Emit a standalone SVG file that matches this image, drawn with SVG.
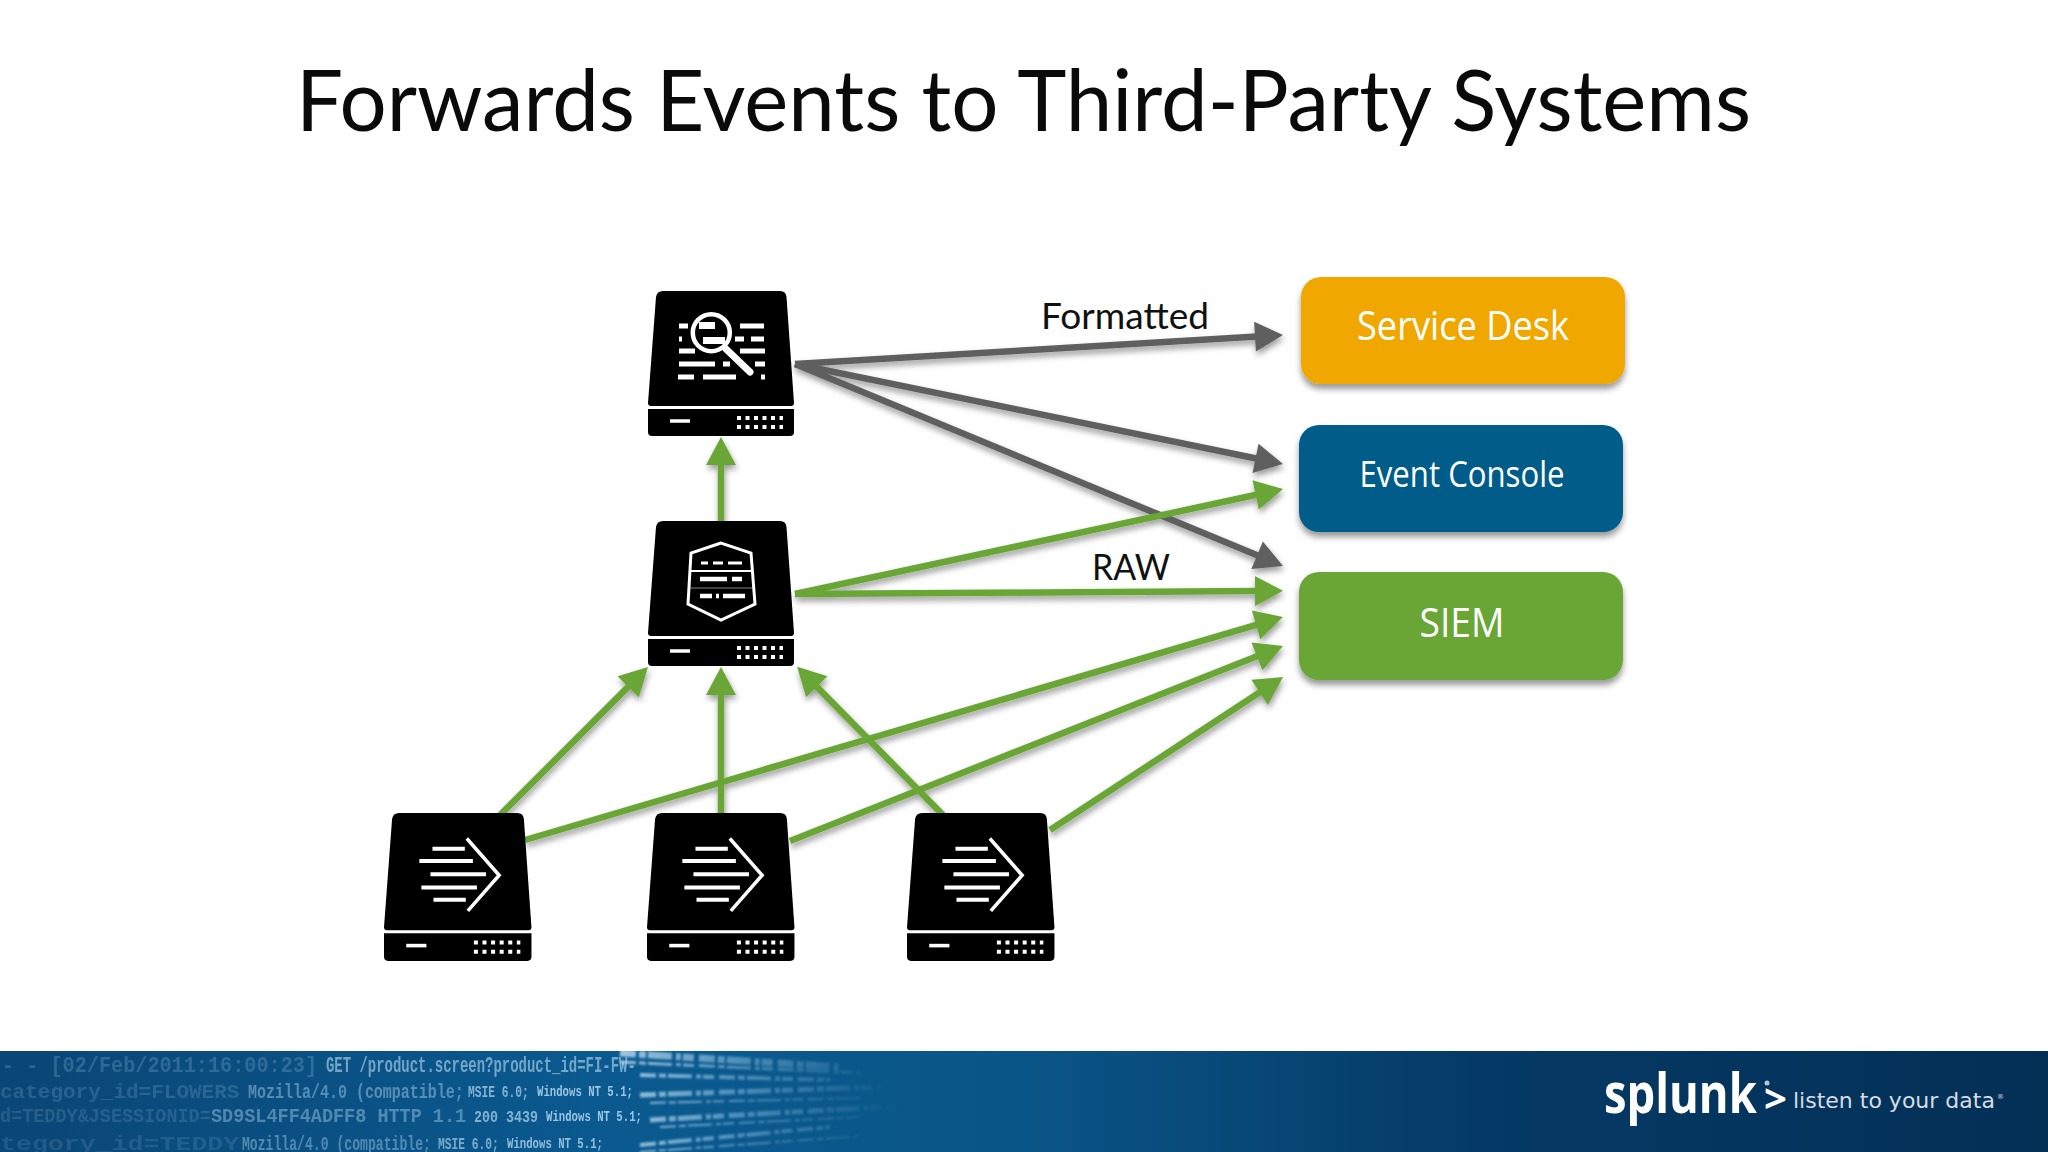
<svg xmlns="http://www.w3.org/2000/svg" width="2048" height="1152" viewBox="0 0 2048 1152">
<style>
.title{font-family:Lato,"Liberation Sans",sans-serif;font-size:86px;fill:#0a0a0a}
.lbl{font-family:Lato,"Liberation Sans",sans-serif;font-size:36px;fill:#111}
.box{font-family:"Open Sans","Liberation Sans",sans-serif;fill:#fff;text-anchor:middle}
.g{stroke:#69a636;stroke-width:6.500;fill:none;marker-end:url(#ag)}
.k{stroke:#5f5f5f;stroke-width:6.500;fill:none;marker-end:url(#ak)}
.ic{stroke:#fff;fill:none}
.code{font-family:"Liberation Mono",monospace;fill:#b4d8f0;font-weight:bold}
.logo{font-family:"Open Sans","Liberation Sans",sans-serif;font-weight:700;fill:#fff}
.tag{font-family:"DejaVu Sans",sans-serif;fill:#d5dde5}
</style>
<defs>
<marker id="ag" markerUnits="userSpaceOnUse" markerWidth="30" markerHeight="30" refX="2" refY="15" orient="auto" overflow="visible"><path d="M0,0L28,15L0,30z" fill="#69a636"/></marker>
<marker id="ak" markerUnits="userSpaceOnUse" markerWidth="30" markerHeight="30" refX="2" refY="15" orient="auto" overflow="visible"><path d="M0,0L28,15L0,30z" fill="#5f5f5f"/></marker>
<filter id="sh" x="-5%" y="-5%" width="110%" height="110%"><feDropShadow dx="1" dy="4" stdDeviation="3" flood-color="#000" flood-opacity="0.4"/></filter>
<filter id="bs" x="-5%" y="-10%" width="110%" height="125%"><feDropShadow dx="0" dy="5" stdDeviation="3" flood-color="#000" flood-opacity="0.4"/></filter>
<filter id="soft" filterUnits="userSpaceOnUse" x="0" y="1040" width="1100" height="112"><feGaussianBlur stdDeviation="0.7"/></filter>
<filter id="soft2" filterUnits="userSpaceOnUse" x="0" y="1040" width="1100" height="112"><feGaussianBlur stdDeviation="1.300"/></filter>
<linearGradient id="band" x1="0" y1="0" x2="1" y2="0">
<stop offset="0" stop-color="#0a4676"/><stop offset="0.3" stop-color="#0a5a90"/><stop offset="0.5" stop-color="#0a5587"/><stop offset="0.72" stop-color="#053a66"/><stop offset="1" stop-color="#032f55"/>
</linearGradient>
<linearGradient id="fade" gradientUnits="userSpaceOnUse" x1="600" y1="0" x2="900" y2="0">
<stop offset="0" stop-color="#d8eefa" stop-opacity="0.8"/><stop offset="0.45" stop-color="#a8d4f0" stop-opacity="0.45"/><stop offset="1" stop-color="#8fc4e6" stop-opacity="0"/>
</linearGradient>
<clipPath id="bc"><rect x="0" y="1051" width="2048" height="101"/></clipPath>
<g id="chassis">
<path d="M15,0H132Q138,0 138.500,6L146,112Q146,115 143,115H3Q0,115 0,112L8,6Q9,0 15,0Z" fill="#000"/>
<path d="M0,118H146V141Q146,145 142,145H4Q0,145 0,141Z" fill="#000"/>
<path d="M22,130H42" stroke="#fff" stroke-width="3.500"/>
<path d="M89,127H135M89,136H135" stroke="#fff" stroke-width="4" stroke-dasharray="4 4.500"/>
</g>
<g id="fwd">
<use href="#chassis"/>
<path class="ic" stroke-width="4" d="M48,35H80M35,47H88M46,60H101M37,73H92M49,85H81"/>
<path class="ic" stroke-width="3.500" d="M82,25L114,61L83,96"/>
</g>
</defs>
<rect width="2048" height="1152" fill="#fff"/>
<text class="title" x="296" y="131" textLength="1455" lengthAdjust="spacingAndGlyphs">Forwards Events to Third-Party Systems</text>

<g id="connectors" filter="url(#sh)">
<line id="c1" class="k" x1="795" y1="364" x2="1257" y2="336.500"/>
<line id="c2" class="k" x1="795" y1="364" x2="1257.500" y2="458.800"/>
<line id="c3" class="k" x1="795" y1="364" x2="1259" y2="556"/>
<line id="c4" class="g" x1="721" y1="522" x2="721" y2="463"/>
<line id="c5" class="g" x1="795" y1="594" x2="1257.600" y2="494.500"/>
<line id="c6" class="g" x1="795" y1="594" x2="1257" y2="591"/>
<line id="c7" class="g" x1="500" y1="815" x2="629.600" y2="685.400"/>
<line id="c8" class="g" x1="721" y1="815" x2="721" y2="693"/>
<line id="c9" class="g" x1="943" y1="815" x2="815.400" y2="685.400"/>
<line id="c10" class="g" x1="525" y1="840" x2="1258" y2="624.300"/>
<line id="c11" class="g" x1="790" y1="841" x2="1258.800" y2="655.600"/>
<line id="c12" class="g" x1="1050" y1="830" x2="1261.300" y2="691.300"/>
</g>

<text class="lbl" x="1041" y="329" textLength="168" lengthAdjust="spacingAndGlyphs">Formatted</text>
<text class="lbl" x="1092" y="580" textLength="78" lengthAdjust="spacingAndGlyphs">RAW</text>

<g id="search-head" transform="translate(648,291)">
<use href="#chassis"/>
<path class="ic" stroke-width="5" d="M31,35H40M92,35H116M31,48H34M87,48H96M103,48H116M31,60H47M92,60H117M31,73H67M75,73H82M107,73H117M30,86H46M55,86H88M113,86H117"/>
<rect x="51" y="31" width="16" height="7" fill="#fff"/>
<rect x="55" y="46" width="22" height="7" fill="#fff"/>
<circle class="ic" stroke-width="4.500" cx="63.300" cy="41.700" r="18.500"/>
<path class="ic" stroke-width="7" stroke-linecap="round" d="M78,58L102,81"/>
</g>

<g id="indexer" transform="translate(648,521)">
<use href="#chassis"/>
<path class="ic" stroke-width="3" d="M73,22L43,32L40,83L73,99L107,83L103,32Z"/>
<path class="ic" stroke-width="2" d="M43,50H103"/>
<path class="ic" stroke-width="1" stroke-opacity="0.5" d="M42,67H105"/>
<path class="ic" stroke-width="3" d="M53,42H60M65,42H75M80,42H94"/>
<path class="ic" stroke-width="4.500" d="M52,58H79M84,58H94M52,75H64M68,75H71M75,75H97"/>
</g>

<g id="forwarder-1" transform="translate(384,813)"><use href="#fwd" transform="scale(1.010,1.020)"/></g>
<g id="forwarder-2" transform="translate(647,813)"><use href="#fwd" transform="scale(1.010,1.020)"/></g>
<g id="forwarder-3" transform="translate(907,813)"><use href="#fwd" transform="scale(1.010,1.020)"/></g>

<g id="service-desk">
<rect x="1301" y="277" width="324" height="107" rx="20" fill="#f0a804" filter="url(#bs)"/>
<text class="box" x="1463" y="340" font-size="40" textLength="212" lengthAdjust="spacingAndGlyphs">Service Desk</text>
</g>
<g id="event-console">
<rect x="1299" y="425" width="324" height="107" rx="20" fill="#005d8a" filter="url(#bs)"/>
<text class="box" x="1462" y="487" font-size="36" textLength="205" lengthAdjust="spacingAndGlyphs">Event Console</text>
</g>
<g id="siem">
<rect x="1299" y="572" width="324" height="108" rx="20" fill="#69a636" filter="url(#bs)"/>
<text class="box" x="1462" y="637" font-size="40" textLength="85" lengthAdjust="spacingAndGlyphs">SIEM</text>
</g>

<g id="footer">
<rect x="0" y="1051" width="2048" height="101" fill="url(#band)"/>
<g clip-path="url(#bc)">
<g filter="url(#soft2)" stroke="url(#fade)" fill="none" stroke-dasharray="16 3 7 2 24 4 5 2 11 5">
<path stroke-width="7" d="M620,1053L840,1067"/>
<path stroke-width="3" d="M620,1062L860,1073"/>
<path stroke-width="4" d="M640,1075L830,1080"/>
<path stroke-width="5" d="M640,1095L880,1087"/>
<path stroke-width="2" d="M650,1103L860,1098"/>
<path stroke-width="5" d="M650,1120L900,1106"/>
<path stroke-width="2" d="M660,1127L860,1117"/>
<path stroke-width="4" d="M640,1145L830,1127"/>
<path stroke-width="2" d="M640,1152L860,1136"/>
</g>
<g filter="url(#soft)">
<text class="code" font-size="22" fill-opacity="0.22" transform="translate(2,1072) scale(0.918,1)">- - [02/Feb/2011:16:00:23]</text>
<text class="code" font-size="22" fill-opacity="0.62" transform="translate(326,1072) scale(0.635,1)">GET /product.screen?product_id=FI-FW-</text>
<text class="code" font-size="20" fill-opacity="0.18" transform="translate(0,1098) scale(1.050,1)">category_id=FLOWERS</text>
<text class="code" font-size="20" fill-opacity="0.45" transform="translate(248,1098) scale(0.750,1)">Mozilla/4.0 (compatible;</text>
<text class="code" font-size="17" fill-opacity="0.7" transform="translate(468,1097) scale(0.664,1)">MSIE 6.0;</text>
<text class="code" font-size="14" fill-opacity="0.85" transform="translate(537,1096) scale(0.762,1)">Windows NT 5.1;</text>
<text class="code" font-size="20" fill-opacity="0.16" transform="translate(0,1122) scale(0.925,1)">d=TEDDY&amp;JSESSIONID=</text>
<text class="code" font-size="20" fill-opacity="0.42" transform="translate(211,1122) scale(0.925,1)">SD9SL4FF4ADFF8 HTTP 1.1</text>
<text class="code" font-size="17" fill-opacity="0.7" transform="translate(474,1122) scale(0.784,1)">200 3439</text>
<text class="code" font-size="14" fill-opacity="0.85" transform="translate(546,1121) scale(0.762,1)">Windows NT 5.1;</text>
<text class="code" font-size="20" fill-opacity="0.14" transform="translate(0,1150) scale(1.330,1)">tegory_id=TEDDY</text>
<text class="code" font-size="20" fill-opacity="0.42" transform="translate(242,1150) scale(0.656,1)">Mozilla/4.0 (compatible;</text>
<text class="code" font-size="17" fill-opacity="0.65" transform="translate(438,1149) scale(0.664,1)">MSIE 6.0;</text>
<text class="code" font-size="14" fill-opacity="0.8" transform="translate(507,1148) scale(0.762,1)">Windows NT 5.1;</text>
</g>
</g>
<text class="logo" font-size="56" transform="translate(1604,1113) scale(0.81,1)">splunk</text>
<text class="logo" font-size="40" transform="translate(1764,1113)">&gt;</text>
<circle cx="1767" cy="1083" r="2.500" fill="#b8c6d4"/>
<text class="tag" font-size="22" transform="translate(1793,1108)">listen to your data</text>
<text class="tag" font-size="7" x="1997" y="1099">®</text>
</g>
</svg>
